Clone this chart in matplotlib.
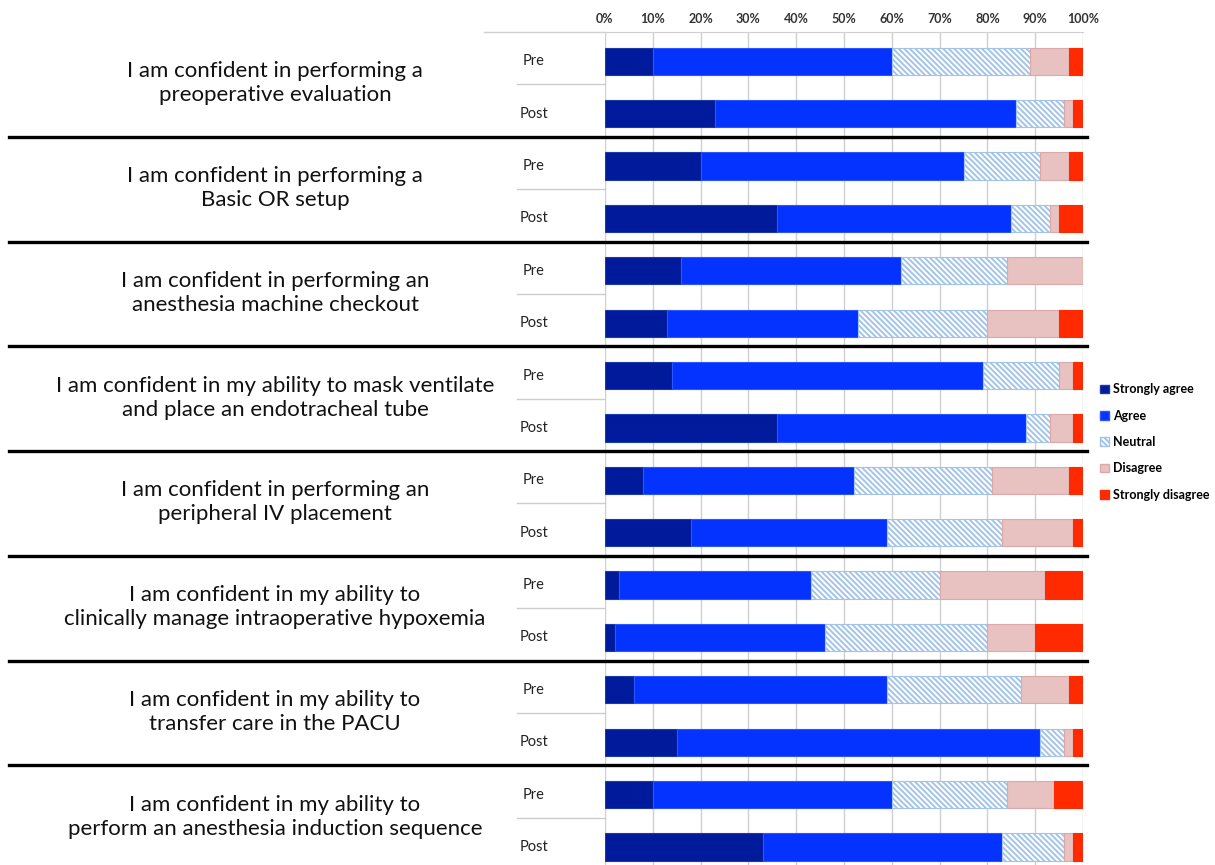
import matplotlib.pyplot as plt
from matplotlib.patches import Patch
from matplotlib.transforms import blended_transform_factory
import numpy as np

plt.rcParams['font.family'] = ['Lato', 'DejaVu Sans']
plt.rcParams['hatch.linewidth'] = 1.4

# Datos: una fila por pregunta y fase (Pre, Post), en %
questions = [
    "I am confident in performing a\npreoperative evaluation",
    "I am confident in performing a\nBasic OR setup",
    "I am confident in performing an\nanesthesia machine checkout",
    "I am confident in my ability to mask ventilate\nand place an endotracheal tube",
    "I am confident in performing an\nperipheral IV placement",
    "I am confident in my ability to\nclinically manage intraoperative hypoxemia",
    "I am confident in my ability to\ntransfer care in the PACU",
    "I am confident in my ability to\nperform an anesthesia induction sequence",
]
phases = ["Pre", "Post"]
categories = ["Strongly agree", "Agree", "Neutral", "Disagree", "Strongly disagree"]

strongly_agree = [10, 23, 20, 36, 16, 13, 14, 36, 8, 18, 3, 2, 6, 15, 10, 33]
agree = [50, 63, 55, 49, 46, 40, 65, 52, 44, 41, 40, 44, 53, 76, 50, 50]
neutral = [29, 10, 16, 8, 22, 27, 16, 5, 29, 24, 27, 34, 28, 5, 24, 13]
disagree = [8, 2, 6, 2, 16, 15, 3, 5, 16, 15, 22, 10, 10, 2, 10, 2]
strongly_disagree = [3, 2, 3, 5, 0, 5, 2, 2, 3, 2, 8, 10, 3, 2, 6, 2]

series = [strongly_agree, agree, neutral, disagree, strongly_disagree]
faces = ["#001a9c", "#0433ff", "white", "#e8c1c1", "#ff2a00"]
edges = ["#1a3aa8", "#2a55ff", "#a3c4e8", "#dca8a8", "#ff2a00"]
hatches = [None, None, "\\\\\\\\\\\\", None, None]

fig = plt.figure(figsize=(12.15, 8.65), dpi=100)
W, H = 1215, 865
ax = fig.add_axes([605 / W, 1 - 870 / H, 478 / W, 838 / H])

n_rows = len(strongly_agree)
y = np.arange(n_rows) + 0.56
left = np.zeros(n_rows)
for vals, fc, ec, h in zip(series, faces, edges, hatches):
    ax.barh(y, vals, left=left, height=0.52, color=fc, edgecolor=ec,
            hatch=h, linewidth=0.8, zorder=3)
    left += np.array(vals)

ax.set_xlim(0, 100)
ax.set_ylim(n_rows, 0)
ax.xaxis.tick_top()
ax.set_xticks(range(0, 101, 10))
ax.set_xticklabels([f"{t}%" for t in range(0, 101, 10)], fontsize=9,
                   fontweight="bold", color="#333333")
ax.tick_params(axis="x", length=0, pad=5)
ax.set_yticks([])
ax.grid(axis="x", color="#cfcfcf", linewidth=1.0, zorder=0)
for s in ["right", "bottom", "left"]:
    ax.spines[s].set_visible(False)
ax.spines["top"].set_color("#cfcfcf")

trans = blended_transform_factory(fig.transFigure, ax.transData)

# linea superior gris
ax.plot([484 / W, 605 / W], [0, 0], color="#cfcfcf", lw=1.0,
        transform=trans, clip_on=False)

for k, q in enumerate(questions):
    ax.text(275 / W, 2 * k + 0.98, q, transform=trans, ha="center",
            va="center", fontsize=16, linespacing=1.25, color="#111111")
    for j, ph in enumerate(phases):
        ax.text(534 / W, 2 * k + j + 0.56, ph, transform=trans, ha="center",
                va="center", fontsize=10.5, color="#222222")
    ax.plot([517 / W, 605 / W], [2 * k + 1, 2 * k + 1], color="#cccccc",
            lw=1.0, transform=trans, clip_on=False)
    if k > 0:
        ax.plot([9 / W, 1087 / W], [2 * k, 2 * k], color="black", lw=2.4,
                transform=trans, clip_on=False, zorder=5)

handles = [Patch(facecolor=fc, edgecolor=ec, hatch=h, label=c)
           for c, fc, ec, h in zip(categories, faces, edges, hatches)]
fig.legend(handles=handles, loc="upper left",
           bbox_to_anchor=(1089 / W, 1 - 372 / H), frameon=False,
           handlelength=0.7, handleheight=0.7, handletextpad=0.35,
           labelspacing=1.15, prop={"size": 9, "weight": "bold"})

fig.savefig("out.png", dpi=100)
